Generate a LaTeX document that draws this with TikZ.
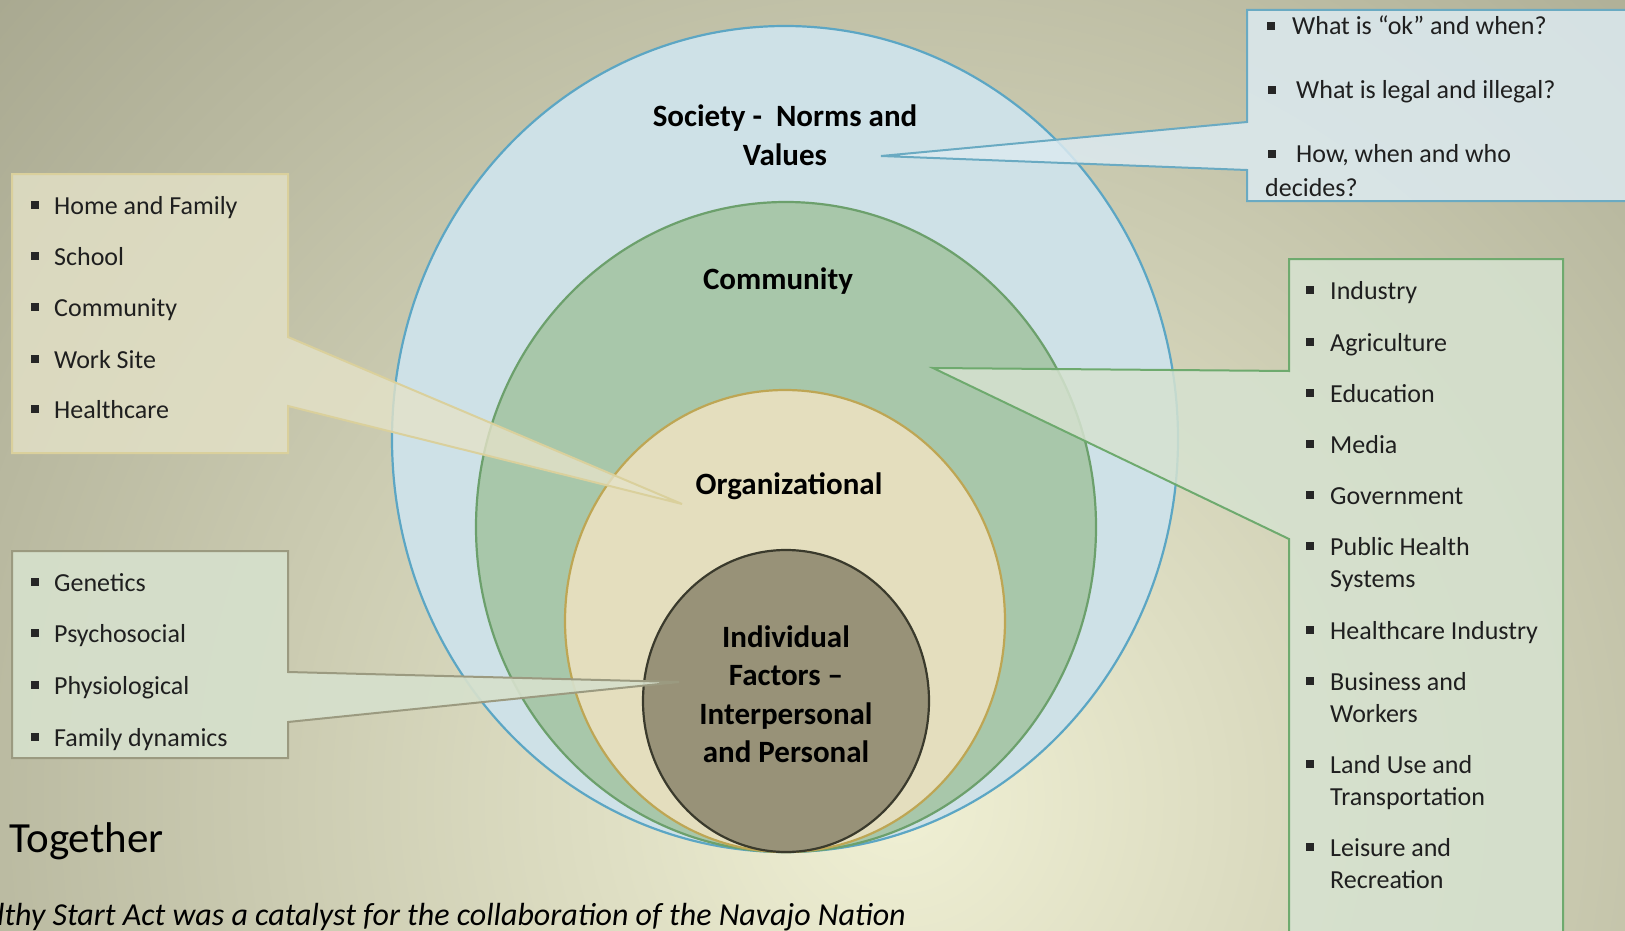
\documentclass[tikz,border=0pt]{standalone}
\usepackage{fontspec}
\setmainfont{Carlito}
\usepackage{tikz}
\usetikzlibrary{shapes.geometric}

\definecolor{bgin}{RGB}{240,240,212}
\definecolor{bgout}{RGB}{128,128,106}
\definecolor{societyfill}{RGB}{206,225,231}
\definecolor{societyline}{RGB}{92,166,196}
\definecolor{commfill}{RGB}{168,199,170}
\definecolor{commline}{RGB}{108,160,108}
\definecolor{orgfill}{RGB}{228,222,190}
\definecolor{orgline}{RGB}{190,166,84}
\definecolor{indfill}{RGB}{152,146,120}
\definecolor{indline}{RGB}{58,58,44}
\definecolor{homefill}{RGB}{228,226,200}
\definecolor{homeline}{RGB}{218,208,156}
\definecolor{genefill}{RGB}{214,224,204}
\definecolor{geneline}{RGB}{155,154,128}
\definecolor{normfill}{RGB}{220,234,240}
\definecolor{normline}{RGB}{106,170,194}
\definecolor{sectfill}{RGB}{214,226,208}
\definecolor{sectline}{RGB}{110,170,110}

\begin{document}
\begin{tikzpicture}[x=1pt,y=-1pt,
  ring/.style={ellipse,inner sep=0pt,line width=2.2pt},
  callout/.style={line width=2pt},
  ringlabel/.style={font=\fontsize{31}{38.5}\selectfont\bfseries,align=center,inner sep=0pt},
  item/.style={anchor=base west,inner sep=0pt,font=\fontsize{26}{32}\selectfont,text=black!88},
  dot/.style={fill=black!85,minimum size=8pt,inner sep=0pt}]
\useasboundingbox (0,0) rectangle (1625,931);
% background
\begin{scope}
\clip (0,0) rectangle (1625,931);
\shade[inner color=bgin,outer color=bgout] (900,800) circle (1900pt);
\end{scope}

% rings
\node (society) at (785,439) [ring,draw=societyline,fill=societyfill,minimum width=786pt,minimum height=826pt]{};
\node (community) at (786,527) [ring,draw=commline,fill=commfill,minimum width=620pt,minimum height=650pt]{};
\node (organization) at (785,621) [ring,draw=orgline,fill=orgfill,minimum width=440pt,minimum height=462pt]{};
\node (individual) at (786,701) [ring,draw=indline,fill=indfill,minimum width=286pt,minimum height=302pt]{};

% callouts
\coordinate (hometip) at (682,504);
\coordinate (genetip) at (679,682);
\coordinate (normtip) at (881,156);
\coordinate (secttip) at (933,368);
\filldraw[callout,draw=homeline,fill=homefill,fill opacity=0.8] (12,174) -- (288,174) -- (288,337) -- (hometip) -- (288,406) -- (288,453) -- (12,453) -- cycle;
\filldraw[callout,draw=geneline,fill=genefill,fill opacity=0.92] (12,551) -- (288,551) -- (288,672) -- (genetip) -- (288,722) -- (288,758) -- (12,758) -- cycle;
\filldraw[callout,draw=normline,fill=normfill,fill opacity=0.85] (1247,10) -- (1640,10) -- (1640,201) -- (1247,201) -- (1247,170) -- (normtip) -- (1247,122) -- cycle;
\filldraw[callout,draw=sectline,fill=sectfill,fill opacity=0.85] (1289,259) -- (1563,259) -- (1563,945) -- (1289,945) -- (1289,539) -- (secttip) -- (1289,371) -- cycle;

% ring labels
\node (societytext) at (785,135) [ringlabel]{Society -\ \ Norms and\\Values};
\node (communitytext) at (778,289) [ringlabel,anchor=base]{Community};
\node (orgtext) at (789,494) [ringlabel,anchor=base]{Organizational};
\node (indtext) at (786,694) [ringlabel]{Individual\\Factors --\\Interpersonal\\and Personal};

% settings list
\foreach \y/\t [count=\i] in {214/Home and Family,265/School,316/Community,368/Work Site,418/Healthcare}{
  \node (homedot\i) at (35,\y-9) [dot]{};
  \node (home\i) at (54,\y) [item]{\t};
}
% individual list
\foreach \y/\t [count=\i] in {591/Genetics,642/Psychosocial,694/Physiological,746/Family dynamics}{
  \node (genedot\i) at (35,\y-9) [dot]{};
  \node (gene\i) at (54,\y) [item]{\t};
}
% norms list
\node (normdot1) at (1271,26) [dot]{};
\node (norm1) at (1292,35) [item]{What is “ok” and when?};
\node (normdot2) at (1272,90) [dot]{};
\node (norm2) at (1296,99) [item]{What is legal and illegal?};
\node (normdot3) at (1272,154) [dot]{};
\node (norm3) at (1296,163) [item]{How, when and who};
\node (norm3b) at (1265,196) [item]{decides?};
% sector list
\foreach \y/\t [count=\i] in {299/Industry,351/Agriculture,402/Education,453/Media,504/Government,555/Public Health,639/Healthcare Industry,690/Business and,773/Land Use and,856/Leisure and}{
  \node (sectdot\i) at (1310,\y-9) [dot]{};
  \node (sect\i) at (1330,\y) [item]{\t};
}
\foreach \y/\t [count=\i] in {587/Systems,722/Workers,805/Transportation,888/Recreation}{
  \node (sectmore\i) at (1330,\y) [item]{\t};
}

% slide text
\node (together) at (9,852) [anchor=base west,inner sep=0pt,font=\fontsize{43}{50}\selectfont]{Together};
\node (catalyst) at (-3,925) [anchor=base west,inner sep=0pt,font=\fontsize{32}{38}\selectfont\itshape]{lthy Start Act was a catalyst for the collaboration of the Navajo Nation};
\end{tikzpicture}
\end{document}
